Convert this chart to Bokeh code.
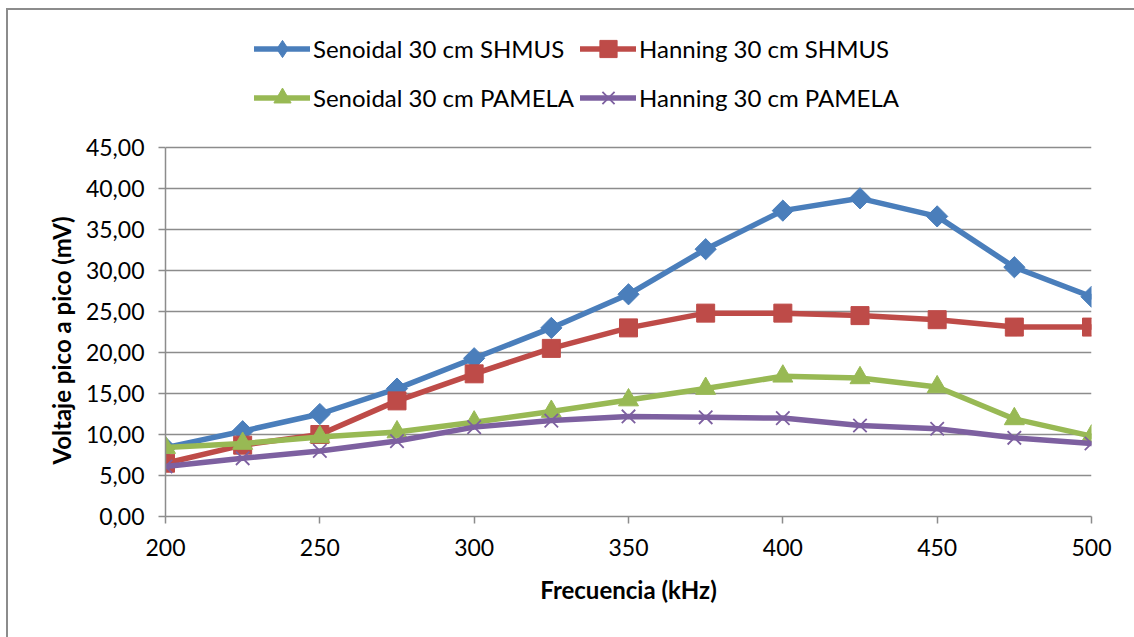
from bokeh.plotting import figure
from bokeh.models import FixedTicker, Legend, LegendItem, Range1d, Title
from bokeh.embed import file_html
from bokeh.resources import INLINE
import math

# Frecuencia de excitación (kHz) y voltaje pico a pico medido (mV)
freq_khz = [200, 225, 250, 275, 300, 325, 350, 375, 400, 425, 450, 475, 500]
senoidal_shmus = [8.4, 10.4, 12.5, 15.6, 19.3, 23.0, 27.1, 32.6, 37.3, 38.8, 36.6, 30.4, 26.8]
hanning_shmus = [6.5, 8.7, 10.0, 14.1, 17.4, 20.5, 23.0, 24.8, 24.8, 24.5, 24.0, 23.1, 23.1]
senoidal_pamela = [8.4, 8.9, 9.7, 10.3, 11.5, 12.8, 14.2, 15.6, 17.1, 16.9, 15.8, 11.9, 9.8]
hanning_pamela = [6.1, 7.1, 8.0, 9.2, 10.9, 11.7, 12.2, 12.1, 12.0, 11.1, 10.7, 9.6, 8.9]

series_names = ["Senoidal 30 cm SHMUS", "Hanning 30 cm SHMUS",
                "Senoidal 30 cm PAMELA", "Hanning 30 cm PAMELA"]
x_ticks = [200, 250, 300, 350, 400, 450, 500]
y_ticks = [0, 5, 10, 15, 20, 25, 30, 35, 40, 45]
y_tick_labels = ["0,00", "5,00", "10,00", "15,00", "20,00", "25,00",
                 "30,00", "35,00", "40,00", "45,00"]

FONT = "Lato"
GRID = "#8c8c8c"

# The frame reaches up to the top so the legend above the grid is not clipped;
# the value axis itself only spans 0..45 (axis bounds).
W, H = 1134, 637
LEFT, RIGHT, BOTTOM = 165, 43, 121
AXIS_TOP_PX = 147          # screen y of the 45,00 line
FRAME_TOP_PX = 12
y_min, y_max = 0, 45
px_per_unit = (H - BOTTOM - AXIS_TOP_PX) / (y_max - y_min)
y_range_top = y_min + (H - BOTTOM - FRAME_TOP_PX) / px_per_unit

p = figure(width=W, height=H, output_backend="svg", toolbar_location=None,
           x_range=Range1d(200, 500), y_range=Range1d(y_min, y_range_top),
           min_border_left=LEFT, min_border_right=RIGHT,
           min_border_top=FRAME_TOP_PX, min_border_bottom=BOTTOM)
p.border_fill_alpha = 0
p.outline_line_color = None
p.styles = {"box-shadow": "inset 6px 8px 0 0 #ffffff, inset 8px 10px 0 0 #8c8c8c"}

# axes
p.xaxis.ticker = FixedTicker(ticks=x_ticks)
p.yaxis.ticker = FixedTicker(ticks=y_ticks)
p.yaxis.bounds = (y_min, y_max)
p.yaxis.major_label_overrides = {v: s for v, s in zip(y_ticks, y_tick_labels)}
for ax in (p.xaxis[0], p.yaxis[0]):
    ax.axis_line_color = GRID
    ax.axis_line_width = 1.5
    ax.major_tick_line_color = GRID
    ax.major_tick_line_width = 1.5
    ax.major_tick_in = 0
    ax.major_tick_out = 7
    ax.minor_tick_line_color = None
    ax.major_label_text_font = FONT
    ax.major_label_text_font_size = "23px"
    ax.major_label_text_color = "#000000"
p.xaxis.axis_label = "Frecuencia (kHz)"
p.xaxis.axis_label_text_font = FONT
p.xaxis.axis_label_text_font_size = "24px"
p.xaxis.axis_label_text_font_style = "bold"
p.xaxis.axis_label_text_color = "#000000"
p.xaxis.major_label_standoff = 15
p.xaxis.axis_label_standoff = 16
p.yaxis.major_label_standoff = 14

# value-axis title, centred on the 0..45 span rather than on the whole frame
y_title = Title(text="Voltaje pico a pico (mV)", align="left", offset=52,
                text_font=FONT, text_font_size="24px", text_font_style="bold",
                text_color="#000000", standoff=13)
p.add_layout(y_title, "left")

p.xgrid.grid_line_color = None
p.ygrid.grid_line_color = GRID
p.ygrid.grid_line_width = 1.5

styles = [
    ("#4a7ebb", senoidal_shmus, "square", 15, math.pi / 4),
    ("#be4b48", hanning_shmus, "square", 18, 0),
    ("#98b954", senoidal_pamela, "triangle", 20, 0),
    ("#7d60a0", hanning_pamela, "x", 19, 0),
]

items = []
for name, (color, vals, marker, size, ang) in zip(series_names, styles):
    ln = p.line(freq_khz, vals, line_color=color, line_width=5.5,
                line_join="round", line_cap="round")
    key = None
    if ang:
        # upright diamond used as the legend key (hidden under the first marker)
        key = p.scatter(freq_khz[:1], vals[:1], marker="diamond", size=19,
                        fill_color=color, line_color=color, line_width=1)
    if marker == "x":
        mk = p.scatter(freq_khz, vals, marker=marker, size=size,
                       line_color=color, line_width=1.8)
    else:
        mk = p.scatter(freq_khz, vals, marker=marker, size=size, angle=ang,
                       fill_color=color, line_color=color, line_width=1)
    items.append(LegendItem(label=name, renderers=[ln, key or mk]))

# two-row legend above the grid
legend = Legend(items=items, ncols=2, orientation="horizontal",
                location=(89, 397), padding=0, spacing=6,
                glyph_width=56, glyph_height=43, label_standoff=3,
                label_text_font=FONT, label_text_font_size="24px",
                label_text_color="#000000",
                border_line_color=None, background_fill_alpha=0)
p.add_layout(legend)

open("out.html", "w").write(file_html(p, INLINE))
